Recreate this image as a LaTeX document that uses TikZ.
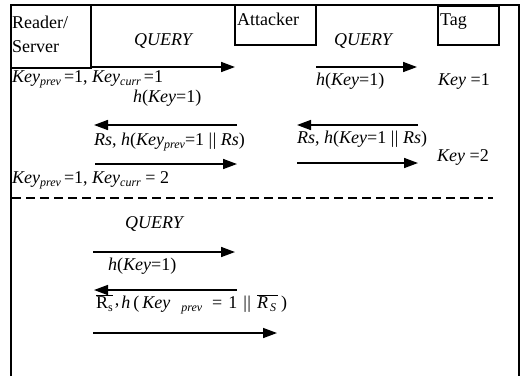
\documentclass[tikz,border=0pt]{standalone}
\usepackage{fontspec}
\setmainfont{Liberation Serif}
\usetikzlibrary{arrows.meta}
\newcommand{\kk}{\textit{Key}}
\newcommand{\sbi}[1]{\raisebox{-3.5pt}{\fontsize{12}{12}\selectfont\textit{#1}}}
\newcommand{\sbu}[1]{\raisebox{-3.5pt}{\fontsize{12}{12}\selectfont #1}}
\newcommand{\dbar}{\textbar\kern0.5pt\textbar}
\begin{document}
\begin{tikzpicture}[x=1pt,y=-1pt,
  frame/.style={line width=1.2pt},
  box/.style={draw,line width=1.2pt},
  msg/.style={line width=1.6pt,-{Triangle[length=14pt,width=10pt]}},
  lbl/.style={inner sep=0pt,anchor=base west,font=\fontsize{18}{20}\selectfont}]
\useasboundingbox (0,0) rectangle (522,376);
% frame
\draw[frame] (11,376) -- (11,5) -- (519,5) -- (519,376);
% boxes
\draw[box] (11,5) rectangle (91,68);
\node[lbl] (rs1) at (12,28) {Reader/};
\node[lbl] (rs2) at (12,52) {Server};
\draw[box] (235,5) rectangle (316,45);
\node[lbl] (att) at (237,25) {Attacker};
\draw[box] (438,6) rectangle (499,45);
\node[lbl] (tag) at (440,25) {Tag};
% coordinates
\coordinate (a1s) at (91,67);  \coordinate (a1e) at (235,67);
\coordinate (a2s) at (316,67); \coordinate (a2e) at (417,67);
\coordinate (a3s) at (237,125);\coordinate (a3e) at (94,125);
\coordinate (a4s) at (95,164); \coordinate (a4e) at (237,164);
\coordinate (a5s) at (418,125);\coordinate (a5e) at (297,125);
\coordinate (a6s) at (297,163);\coordinate (a6e) at (418,163);
\coordinate (d1) at (12,198);  \coordinate (d2) at (493,198);
\coordinate (a7s) at (93,252); \coordinate (a7e) at (235,252);
\coordinate (a8s) at (237,290);\coordinate (a8e) at (94,290);
\coordinate (a9s) at (93,333); \coordinate (a9e) at (277,333);
% arrows
\foreach \a in {a1,a2,a3,a4,a5,a6,a7,a8,a9}
  \draw[msg] (\a s) -- (\a e);
\draw[line width=1.2pt,dash pattern=on 9pt off 5pt] (d1) -- (d2);
% labels
\node[lbl] (q1) at (134,45) {\textit{QUERY}};
\node[lbl] (q2) at (334,45) {\textit{QUERY}};
\node[lbl] (k1) at (12,82) {\kk\sbi{prev}\,=1, \kk\sbi{curr}\,=1};
\node[lbl] (h1) at (133,102) {\textit{h}(\kk=1)};
\node[lbl] (h2) at (316,85) {\textit{h}(\kk=1)};
\node[lbl] (t1) at (438,85) {\kk\ =1};
\node[lbl] (r1) at (94,145) {\textit{Rs}, \textit{h}(\kk\sbi{prev}=1 \dbar\ \textit{Rs})};
\node[lbl] (k2) at (12,183) {\kk\sbi{prev}\,=1, \kk\sbi{curr} = 2};
\node[lbl] (r2) at (297,143) {\textit{Rs}, \textit{h}(\kk=1 \dbar\ \textit{Rs})};
\node[lbl] (t2) at (437,161) {\kk\ =2};
\node[lbl] (q3) at (125,228) {\textit{QUERY}};
\node[lbl] (h3) at (108,270) {\textit{h}(\kk=1)};
\node[lbl] (r3) at (96,308) {$\overline{\hbox{R\sbu{s}}}$\kern2pt\raisebox{3pt}{,}\kern2pt\textit{h}\kern3pt(\kern3pt\kk\hspace{11pt}\sbi{prev}\hspace{10pt}=\hspace{6pt}1\hspace{6pt}\dbar\hspace{6pt}$\overline{\hbox{\textit{R}\kern2pt\sbi{S}\kern2pt}}$\kern3pt)};
\end{tikzpicture}
\end{document}
